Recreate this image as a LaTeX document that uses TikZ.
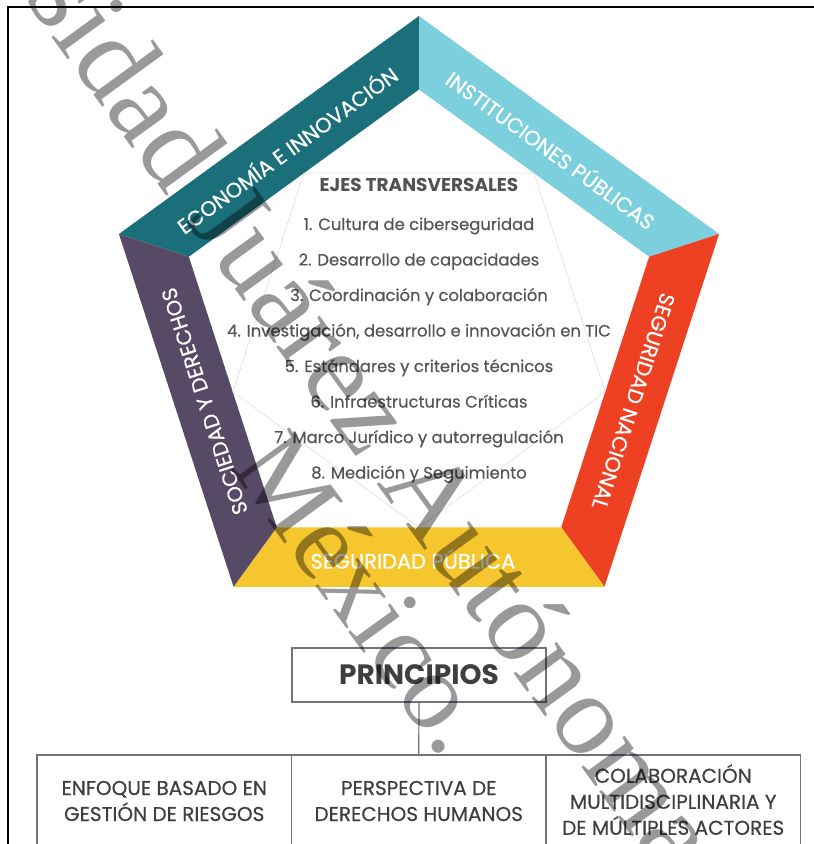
\documentclass[tikz,border=0pt]{standalone}
\usepackage{fontspec}
\setmainfont{Poppins}
\newfontfamily\medfont{Poppins}[FakeBold=0.5]
\newfontfamily\wmfont{Liberation Serif}
\usetikzlibrary{calc,positioning}

\definecolor{ecoteal}{HTML}{1B6F7B}
\definecolor{instcyan}{HTML}{7CCFDD}
\definecolor{segred}{HTML}{EE4123}
\definecolor{pubyellow}{HTML}{F6C62F}
\definecolor{socpurple}{HTML}{574A66}
\definecolor{ejegray}{HTML}{555555}
\definecolor{princgray}{HTML}{3F3F3F}
\definecolor{boxline}{HTML}{6F7380}

\tikzset{
  bandtext/.style={text=white, font=\medfont\fontsize{21}{24}\selectfont},
  ejehead/.style={text=princgray!90, font=\bfseries\fontsize{18.5}{22}\selectfont},
  eje/.style={text=ejegray, font=\medfont\fontsize{16.4}{19}\selectfont, anchor=base},
  princbox/.style={draw=boxline, line width=1.2pt, outer sep=0pt,
    minimum width=254pt, minimum height=54pt,
    text=princgray, font=\bfseries\fontsize{28}{32}\selectfont},
  rowbox/.style={draw=boxline, line width=1.2pt, outer sep=0pt,
    minimum width=254.5pt, minimum height=92pt, align=center,
    text=princgray, font=\medfont\fontsize{20}{26}\selectfont},
  wmark/.style={text=black, text opacity=0.4,
    font=\wmfont\fontsize{116}{116}\selectfont}
}

\begin{document}
\begin{tikzpicture}[x=1pt,y=-1pt]
\useasboundingbox (0,0) rectangle (814,844);

% frame
\draw[line width=2pt] (8,844) -- (8,7) -- (814,7);

% pentagon ring
\coordinate (c) at (419,331.5);
\foreach \a [count=\i] in {-90,-18,54,126,198}{
  \coordinate (o\i) at ($(c)+(\a:315.5)$);
  \coordinate (i\i) at ($(c)+(\a:242)$);
}
\fill[ecoteal] (o5) -- (o1) -- (i1) -- (i5) -- cycle;
\fill[instcyan] (o1) -- (o2) -- (i2) -- (i1) -- cycle;
\fill[segred] (o2) -- (o3) -- (i3) -- (i2) -- cycle;
\fill[pubyellow] (o3) -- (o4) -- (i4) -- (i3) -- cycle;
\fill[socpurple] (o4) -- (o5) -- (i5) -- (i4) -- cycle;

% faint inner pentagon
\draw[gray!25, line width=0.6pt] ($(i1)!0.5!(i2)$) -- ($(i2)!0.5!(i3)$)
  -- ($(i3)!0.5!(i4)$) -- ($(i4)!0.5!(i5)$) -- ($(i5)!0.5!(i1)$) -- cycle;

\node[bandtext, rotate=36] (eco) at ($(c)+(-126:225.5)$) {ECONOMÍA E INNOVACIÓN};
\node[bandtext, rotate=-36] (inst) at ($(c)+(-54:225.5)$) {INSTITUCIONES PÚBLICAS};
\node[bandtext, rotate=-108] (segnac) at ($(c)+(18:225.5)$) {SEGURIDAD NACIONAL};
\node[bandtext] (segpub) at ($(c)+(90:225.5)+(-6,2)$) {SEGURIDAD PÚBLICA};
\node[bandtext, rotate=108] (soc) at ($(c)+(162:225.5)$) {SOCIEDAD Y DERECHOS};

% ejes transversales
\node[ejehead] (ejes) at (419,185) {EJES TRANSVERSALES};
\foreach \t [count=\k] in {1. Cultura de ciberseguridad,
    2. Desarrollo de capacidades,
    3. Coordinación y colaboración,
    {4. Investigación, desarrollo e innovación en TIC},
    5. Estándares y criterios técnicos,
    6. Infraestructuras Críticas,
    7. Marco Jurídico y autorregulación,
    8. Medición y Seguimiento}
  \node[eje] (eje\k) at (419,{230+(\k-1)*35.5}) {\t};

% principios
\node[princbox] (princ) at (419,675) {PRINCIPIOS};
\node[rowbox, anchor=north west] (enfoque) at (37,755) {ENFOQUE BASADO EN\\GESTIÓN DE RIESGOS};
\node[rowbox, right=0pt of enfoque] (persp) {PERSPECTIVA DE\\DERECHOS HUMANOS};
\node[rowbox, right=0pt of persp, text depth=3pt] (colab) {COLABORACIÓN\\MULTIDISCIPLINARIA Y\\DE MÚLTIPLES ACTORES};
\draw[boxline, line width=1.2pt] (princ.south) -- (persp.north);

% watermark
\begin{scope}
\clip (0,0) rectangle (814,844);
\node[wmark, anchor=base west, rotate=-54] (wm1) at (22,-4) {sidad Juárez Autónoma};
\node[wmark, anchor=base east, rotate=-54, font=\wmfont\fontsize{110}{110}\selectfont] (wm2) at (445,764) {México.};
\end{scope}

\end{tikzpicture}
\end{document}
